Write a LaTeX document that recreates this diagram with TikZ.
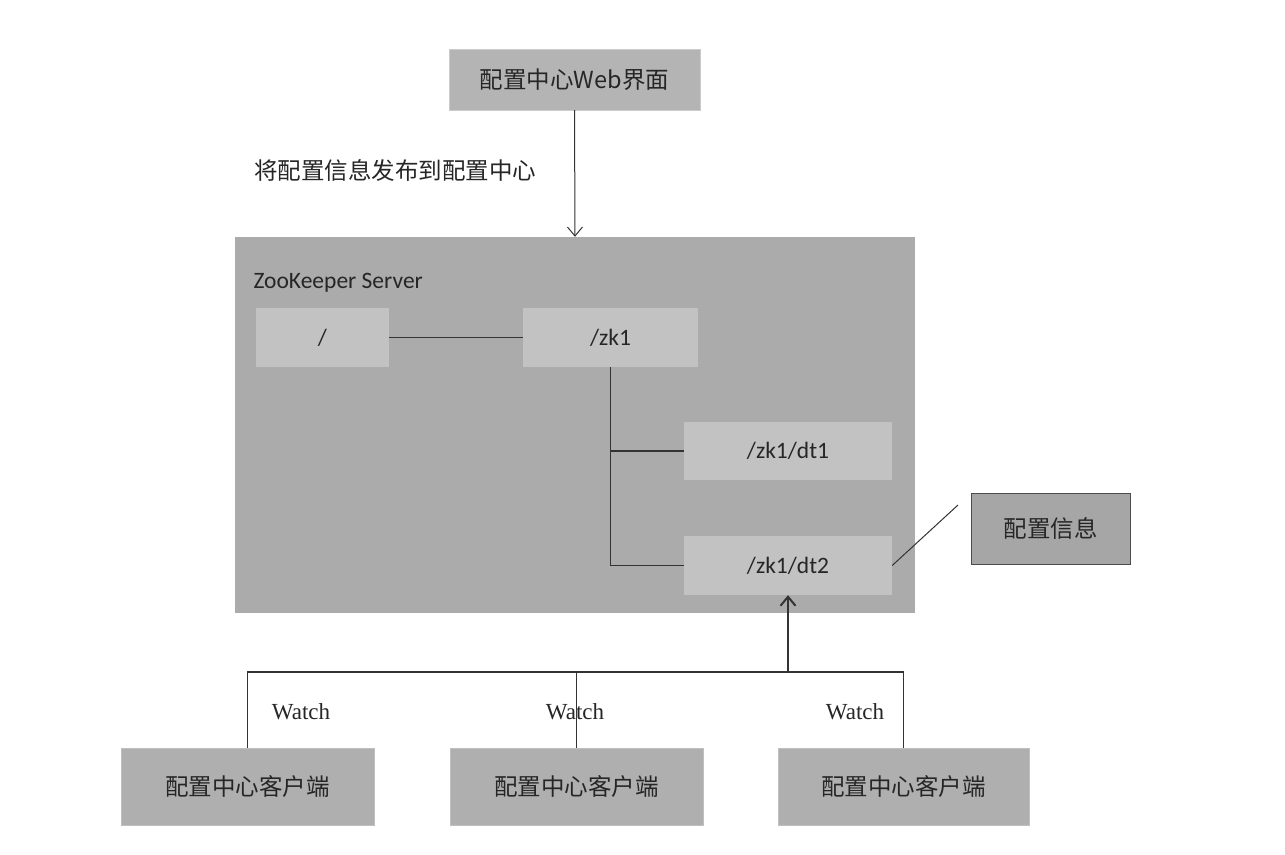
\documentclass[tikz,border=0pt]{standalone}
\usepackage{fontspec}
\setmainfont{Carlito}
\newfontfamily\cjk{Noto Sans CJK SC}
\newfontfamily\watchfont{Liberation Serif}
\usetikzlibrary{arrows.meta}
\definecolor{webgray}{HTML}{B4B4B4}
\definecolor{srvgray}{HTML}{ABABAB}
\definecolor{zkgray}{HTML}{C2C2C2}
\definecolor{infogray}{HTML}{A6A6A6}
\definecolor{cligray}{HTML}{AFAFAF}
\newcommand{\cjkbig}{\cjk\fontsize{23.5}{28}\selectfont}
\newcommand{\zkfont}{\fontsize{23.5}{28}\selectfont}

\begin{document}
\begin{tikzpicture}[x=1pt,y=-1pt,
  box/.style={fill=#1,inner sep=0pt,text=black!85},
  link/.style={draw=black!80,line width=1.4pt},
  watchlbl/.style={text=black!85,font=\watchfont\fontsize{23}{27}\selectfont},
  barb/.style={-{Straight Barb[length=9pt,width=15pt]}}]
\useasboundingbox[fill=white] (0,0) rectangle (1285,854);
\node[box=webgray,draw=black!20,minimum width=251pt,minimum height=61pt,font=\cjkbig] (web) at (574.5,79.5) {配置中心Web界面};
\node[text=black!85,font=\cjkbig] (publish) at (395,170) {将配置信息发布到配置中心};
\node[box=srvgray,minimum width=680pt,minimum height=376pt] (server) at (575,425) {};
\node[text=black!85,anchor=west,font=\zkfont] (srvlabel) at (250,283) {ZooKeeper Server};
\node[box=zkgray,minimum width=133pt,minimum height=59pt,font=\zkfont] (root) at (322.5,337.5) {/};
\node[box=zkgray,minimum width=175pt,minimum height=59pt,font=\zkfont] (zk1) at (610.5,337.5) {/zk1};
\node[box=zkgray,minimum width=208pt,minimum height=58pt,font=\zkfont] (dt1) at (788,451) {/zk1/dt1};
\node[box=zkgray,minimum width=208pt,minimum height=59pt,font=\zkfont] (dt2) at (788,565.5) {/zk1/dt2};
\node[box=infogray,draw=black!70,line width=0.8pt,minimum width=159pt,minimum height=71pt,font=\cjkbig] (info) at (1050.5,528.5) {配置信息};
\node[box=cligray,draw=black!25,minimum width=253pt,minimum height=77pt,font=\cjkbig] (c1) at (247.5,786.5) {配置中心客户端};
\node[box=cligray,draw=black!25,minimum width=253pt,minimum height=77pt,font=\cjkbig] (c2) at (576.5,786.5) {配置中心客户端};
\node[box=cligray,draw=black!25,minimum width=251pt,minimum height=77pt,font=\cjkbig] (c3) at (903.5,786.5) {配置中心客户端};
\node[watchlbl] (w1) at (301,712) {Watch};
\node[watchlbl] (w2) at (575,712) {Watch};
\node[watchlbl] (w3) at (855,712) {Watch};
\coordinate (bus) at (575,672);
\coordinate (callout) at (958,505);
\draw[link,line width=1pt,barb] (web.south) -- (server.north);
\draw[link] (root.east) -- (zk1.west);
\draw[link] (zk1.south) |- (dt1.west);
\draw[link] (zk1.south) |- (dt2.west);
\draw[link,line width=1pt] (dt2.east) -- (callout);
\draw[link] (c1.north) |- (bus) -| (c3.north);
\draw[link] (c2.north) -- (c2.north |- bus);
\draw[link,line width=2pt,barb] (dt2.south |- bus) -- (dt2.south);
\end{tikzpicture}
\end{document}
